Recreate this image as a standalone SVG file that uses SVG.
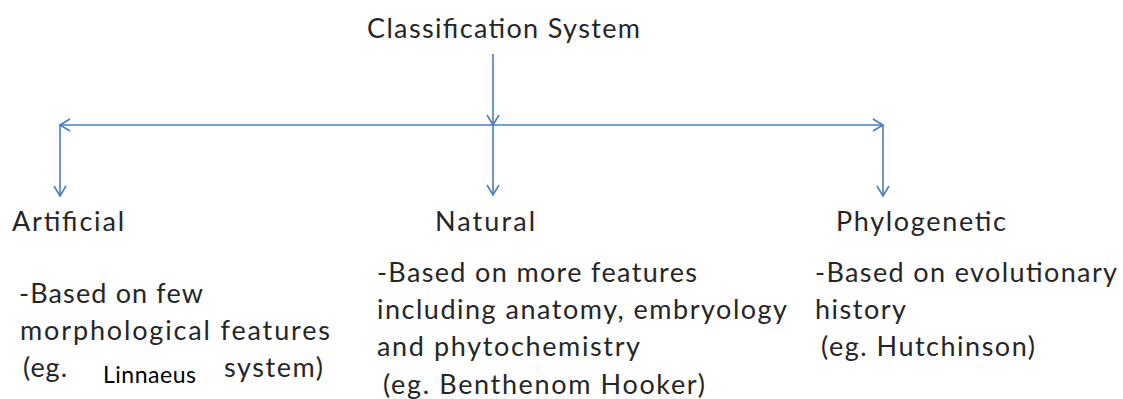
<svg xmlns="http://www.w3.org/2000/svg" width="1123" height="399" viewBox="0 0 1123 399">
<style>
.t{font-family:Lato,"Open Sans","Liberation Sans",sans-serif;font-size:27px;fill:#262626}
.s{font-family:Lato,"Open Sans","Liberation Sans",sans-serif;font-size:23px;fill:#000}
.c{stroke:#4A7EBB;stroke-width:1.6;fill:none}
</style>
<defs>
<marker id="ah" markerWidth="14" markerHeight="14" refX="11" refY="7" orient="auto" markerUnits="userSpaceOnUse">
<path d="M1,1 L11,7 L1,13" fill="none" stroke="#4A7EBB" stroke-width="1.6"/>
</marker>
</defs>
<rect width="1123" height="399" fill="#fff"/>
<g id="connectors">
<line class="c" x1="493" y1="54" x2="493" y2="125" marker-end="url(#ah)"/>
<line class="c" x1="493" y1="125" x2="493" y2="195" marker-end="url(#ah)"/>
<line class="c" x1="493" y1="125" x2="60" y2="125" marker-end="url(#ah)"/>
<line class="c" x1="493" y1="125" x2="883" y2="125" marker-end="url(#ah)"/>
<line class="c" x1="60" y1="125" x2="60" y2="196" marker-end="url(#ah)"/>
<line class="c" x1="883" y1="125" x2="883" y2="196" marker-end="url(#ah)"/>
</g>
<g id="root"><text class="t" x="367" y="38" textLength="273" lengthAdjust="spacing">Classification System</text></g>
<g id="artificial">
<text class="t" x="12" y="231" textLength="112" lengthAdjust="spacing">Artificial</text>
<text class="t" x="19" y="303" textLength="184" lengthAdjust="spacing">-Based on few</text>
<text class="t" x="20" y="340" textLength="310" lengthAdjust="spacing">morphological features</text>
<text class="t" x="23" y="377" textLength="44" lengthAdjust="spacing">(eg.</text>
<text class="s" x="103" y="383" textLength="93" lengthAdjust="spacing">Linnaeus</text>
<text class="t" x="224" y="377" textLength="99" lengthAdjust="spacing">system)</text>
</g>
<g id="natural">
<text class="t" x="435" y="231" textLength="100" lengthAdjust="spacing">Natural</text>
<text class="t" x="377" y="282" textLength="320" lengthAdjust="spacing">-Based on more features</text>
<text class="t" x="377" y="319" textLength="410" lengthAdjust="spacing">including anatomy, embryology</text>
<text class="t" x="377" y="356" textLength="263" lengthAdjust="spacing">and phytochemistry</text>
<text class="t" x="383" y="394" textLength="322" lengthAdjust="spacing">(eg. Benthenom Hooker)</text>
</g>
<g id="phylogenetic">
<text class="t" x="836" y="231" textLength="170" lengthAdjust="spacing">Phylogenetic</text>
<text class="t" x="815" y="282" textLength="302" lengthAdjust="spacing">-Based on evolutionary</text>
<text class="t" x="815" y="319" textLength="91" lengthAdjust="spacing">history</text>
<text class="t" x="821" y="356" textLength="214" lengthAdjust="spacing">(eg. Hutchinson)</text>
</g>
</svg>
